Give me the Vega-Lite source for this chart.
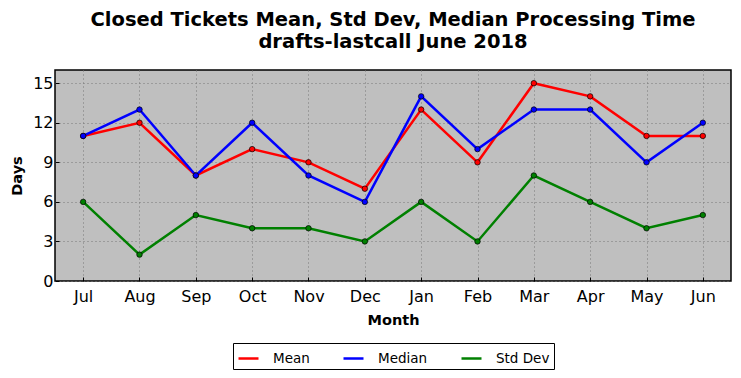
{
  "$schema": "https://vega.github.io/schema/vega-lite/v6.json",
  "autosize": {"type": "none"},
  "width": 676,
  "height": 211,
  "padding": {"left": 55, "top": 70, "right": 10, "bottom": 97},
  "background": "white",
  "title": {
    "text": ["Closed Tickets Mean, Std Dev, Median Processing Time", "drafts-lastcall June 2018"],
    "fontSize": 19.5,
    "fontWeight": "bold",
    "font": "DejaVu Sans",
    "color": "black",
    "anchor": "middle",
    "offset": 18,
    "lineHeight": 22
  },
  "config": {
    "font": "DejaVu Sans",
    "view": {"fill": "#bfbfbf", "stroke": "black", "strokeWidth": 1.5},
    "axis": {
      "labelFont": "DejaVu Sans",
      "labelFontSize": 16,
      "labelColor": "black",
      "titleFont": "DejaVu Sans",
      "titleFontSize": 14.5,
      "titleFontWeight": "bold",
      "titleColor": "black",
      "domain": false,
      "tickColor": "black",
      "tickSize": -4,
      "gridColor": "#777777",
      "gridDash": [1, 3],
      "gridWidth": 1,
      "gridOpacity": 1
    }
  },
  "data": {
    "values": [
      {"month": "Jul", "series": "Mean", "value": 11},
      {"month": "Aug", "series": "Mean", "value": 12},
      {"month": "Sep", "series": "Mean", "value": 8},
      {"month": "Oct", "series": "Mean", "value": 10},
      {"month": "Nov", "series": "Mean", "value": 9},
      {"month": "Dec", "series": "Mean", "value": 7},
      {"month": "Jan", "series": "Mean", "value": 13},
      {"month": "Feb", "series": "Mean", "value": 9},
      {"month": "Mar", "series": "Mean", "value": 15},
      {"month": "Apr", "series": "Mean", "value": 14},
      {"month": "May", "series": "Mean", "value": 11},
      {"month": "Jun", "series": "Mean", "value": 11},
      {"month": "Jul", "series": "Median", "value": 11},
      {"month": "Aug", "series": "Median", "value": 13},
      {"month": "Sep", "series": "Median", "value": 8},
      {"month": "Oct", "series": "Median", "value": 12},
      {"month": "Nov", "series": "Median", "value": 8},
      {"month": "Dec", "series": "Median", "value": 6},
      {"month": "Jan", "series": "Median", "value": 14},
      {"month": "Feb", "series": "Median", "value": 10},
      {"month": "Mar", "series": "Median", "value": 13},
      {"month": "Apr", "series": "Median", "value": 13},
      {"month": "May", "series": "Median", "value": 9},
      {"month": "Jun", "series": "Median", "value": 12},
      {"month": "Jul", "series": "Std Dev", "value": 6},
      {"month": "Aug", "series": "Std Dev", "value": 2},
      {"month": "Sep", "series": "Std Dev", "value": 5},
      {"month": "Oct", "series": "Std Dev", "value": 4},
      {"month": "Nov", "series": "Std Dev", "value": 4},
      {"month": "Dec", "series": "Std Dev", "value": 3},
      {"month": "Jan", "series": "Std Dev", "value": 6},
      {"month": "Feb", "series": "Std Dev", "value": 3},
      {"month": "Mar", "series": "Std Dev", "value": 8},
      {"month": "Apr", "series": "Std Dev", "value": 6},
      {"month": "May", "series": "Std Dev", "value": 4},
      {"month": "Jun", "series": "Std Dev", "value": 5}
    ]
  },
  "encoding": {
    "x": {
      "field": "month",
      "type": "ordinal",
      "sort": ["Jul", "Aug", "Sep", "Oct", "Nov", "Dec", "Jan", "Feb", "Mar", "Apr", "May", "Jun"],
      "scale": {"type": "point", "padding": 0.5},
      "axis": {"title": "Month", "labelAngle": 0, "grid": true, "labelPadding": 11, "titlePadding": 9}
    },
    "y": {
      "field": "value",
      "type": "quantitative",
      "scale": {"domain": [0, 16], "nice": false},
      "axis": {"title": "Days", "values": [0, 3, 6, 9, 12, 15], "grid": true, "labelPadding": 6, "titlePadding": 8}
    },
    "color": {
      "field": "series",
      "type": "nominal",
      "scale": {"domain": ["Mean", "Median", "Std Dev"], "range": ["#ff0000", "#0000ff", "#008000"]},
      "legend": {
        "title": null,
        "orient": "none",
        "legendX": 178,
        "legendY": 273,
        "direction": "horizontal",
        "columns": 3,
        "columnPadding": 28,
        "symbolType": "stroke",
        "symbolStrokeWidth": 2.5,
        "symbolSize": 400,
        "labelFontSize": 13.5,
        "labelFont": "DejaVu Sans",
        "labelColor": "black",
        "labelOffset": 13,
        "strokeColor": "black",
        "fillColor": "white",
        "padding": 4
      }
    }
  },
  "layer": [
    {"mark": {"type": "line", "strokeWidth": 2.5}},
    {"mark": {"type": "point", "filled": true, "size": 30, "stroke": "black", "strokeWidth": 0.7, "opacity": 1}}
  ]
}
